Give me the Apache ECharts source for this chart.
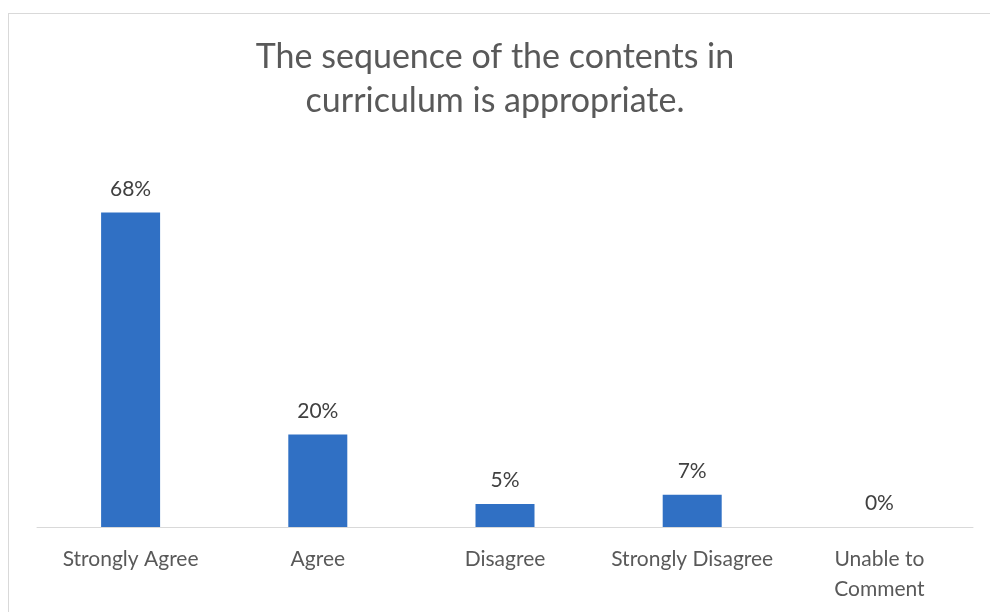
<!DOCTYPE html>
<html>
<head>
<meta charset="utf-8">
<script src="https://cdn.jsdelivr.net/npm/echarts@6/dist/echarts.min.js"></script>
<style>
    html, body { margin: 0; padding: 0; background: #fff; }
    #frame {
        position: absolute; left: 8px; top: 13px; width: 990px; height: 612px;
        border-left: 1px solid #d9d9d9; border-top: 1px solid #d9d9d9;
    }
    #chart { position: absolute; left: 0; top: 0; width: 990px; height: 612px; }
</style>
</head>
<body>
<div id="frame"></div>
<div id="chart"></div>
<script>
var categories = ['Strongly Agree', 'Agree', 'Disagree', 'Strongly Disagree', 'Unable to\nComment'];
var percents = [68, 20, 5, 7, 0];
var titleLines = ['The sequence of the contents in', 'curriculum is appropriate.'];

var fontFamily = 'Lato, "Open Sans", sans-serif';
var chart = echarts.init(document.getElementById('chart'));
chart.setOption({
    animation: false,
    title: {
        text: titleLines.join('\n'),
        left: 'center',
        top: 30,
        textStyle: {
            color: '#595959',
            fontFamily: fontFamily,
            fontWeight: 'normal',
            fontSize: 34,
            lineHeight: 44
        }
    },
    grid: {
        left: 37,
        right: 17,
        top: 157,
        bottom: 85
    },
    xAxis: {
        type: 'category',
        data: categories,
        axisLine: { lineStyle: { color: '#d9d9d9', width: 1 } },
        axisTick: { show: false },
        axisLabel: {
            interval: 0,
            margin: 17,
            color: '#595959',
            fontFamily: fontFamily,
            fontSize: 21,
            lineHeight: 30
        }
    },
    yAxis: {
        type: 'value',
        min: 0,
        max: 80,
        show: false,
        splitLine: { show: false }
    },
    series: [{
        type: 'bar',
        data: percents,
        barWidth: 59,
        itemStyle: { color: '#3070c4' },
        label: {
            show: true,
            position: 'top',
            distance: 13,
            formatter: '{c}%',
            color: '#404040',
            fontFamily: fontFamily,
            fontSize: 21
        }
    }]
});
</script>
</body>
</html>
